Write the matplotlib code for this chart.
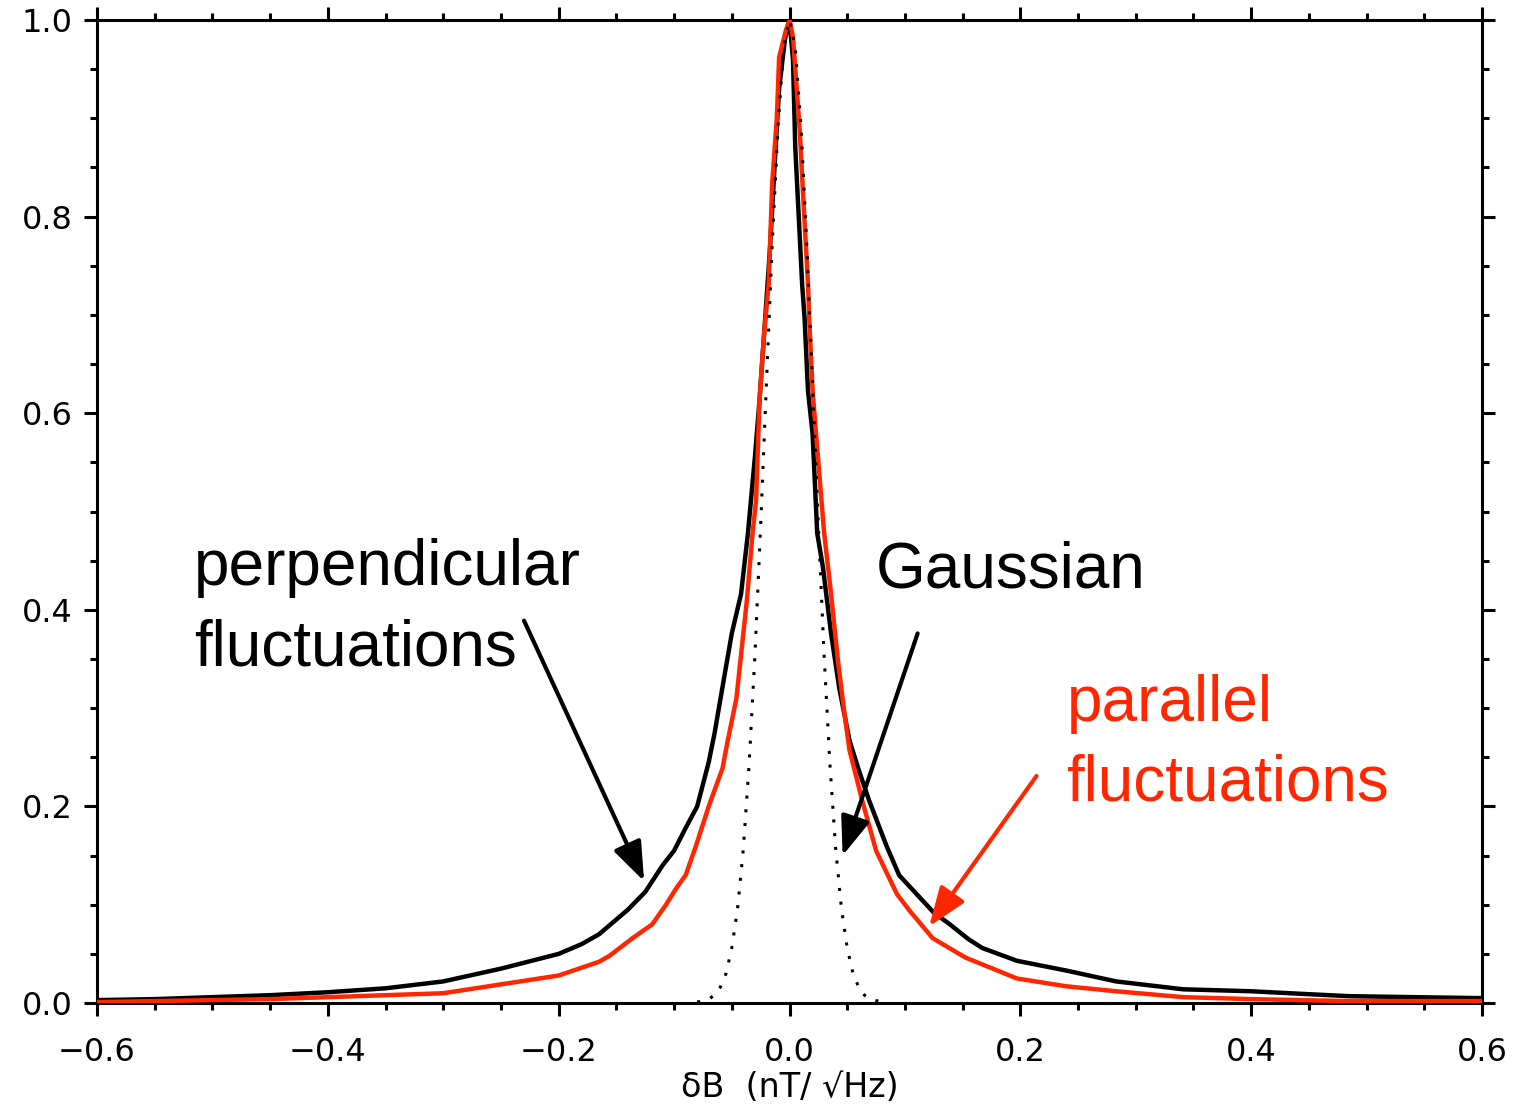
import matplotlib
matplotlib.use("Agg")
import matplotlib.pyplot as plt
from matplotlib.ticker import MultipleLocator

plt.rcParams['font.family'] = ['DejaVu Sans']

# perpendicular fluctuations histogram (normalised to peak)
perp_x = [-0.60, -0.55, -0.50, -0.45, -0.40, -0.35, -0.30, -0.25, -0.20, -0.18,
          -0.165, -0.155, -0.14, -0.125, -0.11, -0.10, -0.09, -0.08, -0.07, -0.065,
          -0.059, -0.05, -0.042, -0.036, -0.030, -0.026, -0.022, -0.017, -0.013, -0.009,
          -0.004, 0.0, 0.003, 0.005, 0.008, 0.011, 0.013, 0.016, 0.020, 0.024,
          0.029, 0.036, 0.043, 0.052, 0.060, 0.069, 0.084, 0.095, 0.110, 0.125,
          0.139, 0.155, 0.167, 0.197, 0.24, 0.283, 0.341, 0.40, 0.45, 0.485,
          0.54, 0.60]
perp_y = [0.003, 0.004, 0.006, 0.008, 0.011, 0.015, 0.022, 0.035, 0.050, 0.060,
          0.070, 0.080, 0.095, 0.113, 0.140, 0.155, 0.178, 0.200, 0.245, 0.274,
          0.315, 0.376, 0.416, 0.478, 0.555, 0.613, 0.681, 0.766, 0.850, 0.930,
          0.980, 1.000, 0.960, 0.870, 0.800, 0.730, 0.698, 0.623, 0.579, 0.478,
          0.443, 0.376, 0.321, 0.267, 0.237, 0.206, 0.160, 0.130, 0.111, 0.092,
          0.080, 0.065, 0.056, 0.043, 0.033, 0.022, 0.014, 0.012, 0.009, 0.007,
          0.006, 0.005]

# parallel fluctuations histogram (normalised to peak)
par_x = [-0.60, -0.50, -0.45, -0.40, -0.35, -0.30, -0.25, -0.20, -0.18, -0.165,
         -0.156, -0.136, -0.119, -0.107, -0.098, -0.090, -0.081, -0.070, -0.058, -0.054,
         -0.046, -0.037, -0.032, -0.029, -0.026, -0.022, -0.018, -0.015, -0.011, -0.009,
         -0.003, 0.0, 0.003, 0.009, 0.012, 0.016, 0.017, 0.020, 0.023, 0.030,
         0.035, 0.042, 0.047, 0.052, 0.063, 0.075, 0.093, 0.104, 0.119, 0.124,
         0.147, 0.153, 0.197, 0.24, 0.283, 0.341, 0.40, 0.485, 0.60]
par_y = [0.001, 0.003, 0.004, 0.006, 0.008, 0.010, 0.019, 0.028, 0.036, 0.042,
         0.048, 0.066, 0.080, 0.100, 0.117, 0.130, 0.160, 0.200, 0.239, 0.264,
         0.310, 0.409, 0.478, 0.511, 0.613, 0.681, 0.732, 0.834, 0.900, 0.962,
         0.990, 1.000, 0.983, 0.885, 0.817, 0.732, 0.698, 0.623, 0.579, 0.478,
         0.427, 0.348, 0.300, 0.257, 0.206, 0.155, 0.111, 0.094, 0.073, 0.066,
         0.050, 0.046, 0.025, 0.017, 0.012, 0.006, 0.004, 0.002, 0.002]

# reference Gaussian
gauss_x = [-0.08, -0.07, -0.065, -0.06, -0.055, -0.05, -0.045, -0.04, -0.035, -0.03,
           -0.025, -0.02, -0.015, -0.01, -0.005, 0.0, 0.005, 0.01, 0.015, 0.02,
           0.025, 0.03, 0.035, 0.04, 0.045, 0.05, 0.055, 0.06, 0.065, 0.07, 0.08]
gauss_y = [0.001, 0.004, 0.008, 0.016, 0.030, 0.056, 0.096, 0.157, 0.243, 0.353,
           0.486, 0.630, 0.771, 0.891, 0.972, 1.000, 0.972, 0.891, 0.771, 0.630,
           0.486, 0.353, 0.243, 0.157, 0.096, 0.056, 0.030, 0.016, 0.008, 0.004, 0.001]

RED = '#ff2600'

fig = plt.figure(figsize=(15.39, 11.15), dpi=100)
ax = fig.add_axes([0.063, 0.1004, 0.900, 0.8817])

ax.plot(perp_x, perp_y, color='black', lw=3.2, zorder=3)
ax.plot(par_x, par_y, color=RED, lw=3.2, zorder=4)
ax.plot(gauss_x, gauss_y, color='black', lw=2.2, linestyle=(0, (1, 3.5)), zorder=5)

ax.set_xlim(-0.6, 0.6)
ax.set_ylim(0.0, 1.0)
ax.xaxis.set_major_locator(MultipleLocator(0.2))
ax.xaxis.set_minor_locator(MultipleLocator(0.05))
ax.yaxis.set_major_locator(MultipleLocator(0.2))
ax.yaxis.set_minor_locator(MultipleLocator(0.05))

for s in ax.spines.values():
    s.set_linewidth(2.2)
ax.tick_params(which='both', direction='out', top=True, right=True, width=2.2)
ax.tick_params(which='major', length=9.5, labelsize=23)
ax.tick_params(which='minor', length=5)
ax.tick_params(axis='x', which='major', pad=15)
ax.tick_params(axis='y', which='major', pad=8)

ax.xaxis.set_major_formatter(plt.FuncFormatter(
    lambda v, p: ('%.1f' % v).replace('-', '\u2212')))
ax.yaxis.set_major_formatter(plt.FuncFormatter(lambda v, p: '%.1f' % v))

ax.set_xlabel('\u03b4B  (nT/ \u221aHz)', fontsize=24, labelpad=2)

# keep the end labels inside the frame
fig.canvas.draw()
ylabels = ax.get_yticklabels()
ylabels[0].set_verticalalignment('bottom')
ylabels[-1].set_verticalalignment('top')

txt = dict(fontsize=46, family=['Liberation Sans', 'DejaVu Sans'])
ax.text(-0.516, 0.425, 'perpendicular', color='black', **txt)
ax.text(-0.516, 0.343, 'fluctuations', color='black', **txt)
ax.text(0.075, 0.423, 'Gaussian', color='black', **txt)
ax.text(0.240, 0.287, 'parallel', color=RED, **txt)
ax.text(0.240, 0.206, 'fluctuations', color=RED, **txt)

arrow = dict(arrowstyle='-|>,head_length=1.2,head_width=0.45', lw=3, shrinkA=0, shrinkB=0)
ax.annotate('', xy=(-0.126, 0.124), xytext=(-0.230, 0.389),
            arrowprops=dict(color='black', mutation_scale=20, **arrow), zorder=6)
ax.annotate('', xy=(0.046, 0.150), xytext=(0.111, 0.376),
            arrowprops=dict(color='black', mutation_scale=20, **arrow), zorder=6)
ax.annotate('', xy=(0.121, 0.078), xytext=(0.214, 0.231),
            arrowprops=dict(color=RED, mutation_scale=20, **arrow), zorder=6)

fig.savefig('out.png', dpi=100)
